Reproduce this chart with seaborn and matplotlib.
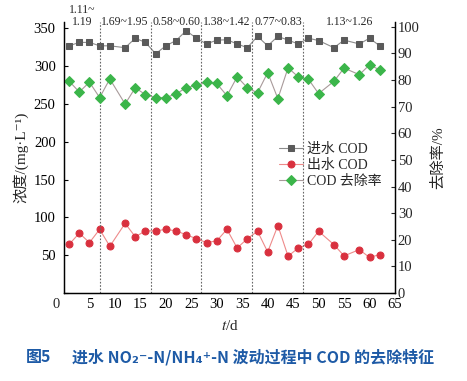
import matplotlib
matplotlib.use('Agg')
import matplotlib.pyplot as plt
import seaborn as sns

# data
days = [1, 3, 5, 7, 9, 12, 14, 16, 18, 20, 22, 24, 26, 28, 30,
        32, 34, 36, 38, 40, 42, 44, 46, 48, 50, 53, 55, 58, 60, 62]
influent_cod = [327, 331.5, 331.5, 327, 327, 324.5, 337, 331.5, 316.5, 327,
                334, 347, 337, 329.5, 334.5, 335, 329.5, 324.5, 339.5, 327,
                339.5, 334.5, 329.5, 337, 334, 324.5, 334.5, 329.5, 337, 327]
effluent_cod = [64.3, 79.1, 66.7, 84.2, 61.8, 92.1, 74.4, 82.2, 82.2, 84.2,
                82.2, 77, 71.9, 66.7, 69, 84.2, 59.5, 71.8, 81.7, 54.3,
                89.2, 48.7, 59.5, 64.4, 81.7, 64, 49.1, 57.4, 47, 50.9]
removal_rate = [79.6, 75.5, 79.2, 73.4, 80.4, 71, 77.1, 74.5, 73.4, 73.4,
                74.8, 77.1, 78, 79.1, 78.7, 74.1, 81.2, 77.1, 75.2, 82.8,
                73, 84.6, 81.2, 80.3, 74.9, 79.5, 84.5, 82, 85.7, 83.8]

phase_edges = [0, 7, 17, 27, 37, 47, 65]
phase_labels = ['1.11~\n1.19', '1.69~1.95', '0.58~0.60', '1.38~1.42', '0.77~0.83', '1.13~1.26']

left_ticks = [0, 50, 100, 150, 200, 250, 300, 350]
right_ticks = [0, 10, 20, 30, 40, 50, 60, 70, 80, 90, 100]
x_ticks = [5, 10, 15, 20, 25, 30, 35, 40, 45, 50, 55, 60, 65]

sns.set_style('white')
serif = ['Liberation Serif', 'Noto Sans CJK SC', 'DejaVu Serif']
plt.rcParams['font.family'] = serif
plt.rcParams['mathtext.fontset'] = 'stix'

fig = plt.figure(figsize=(4.67, 3.81), dpi=100)
ax = fig.add_axes([64 / 467, 1 - 293 / 381, 331 / 467, 271 / 381])
ax2 = ax.twinx()

sns.lineplot(x=days, y=influent_cod, ax=ax, color='#8c8c8c', linewidth=0.8,
             marker='s', markersize=4.3, markerfacecolor='#5a5a5a',
             markeredgecolor='#5a5a5a', label='进水 COD')
sns.lineplot(x=days, y=effluent_cod, ax=ax, color='#ee8a8a', linewidth=0.8,
             marker='o', markersize=5, markerfacecolor='#d9303e',
             markeredgecolor='#d9303e', label='出水 COD')
sns.lineplot(x=days, y=removal_rate, ax=ax2, color='#a89a9a', linewidth=0.8,
             marker='D', markersize=4.6, markerfacecolor='#3bb54a',
             markeredgecolor='#3bb54a', label='COD 去除率')

ax.set_xlim(0, 65)
ax.set_ylim(0, 358.5)
ax2.set_ylim(0, 101.8)

for b in phase_edges[1:-1]:
    ax.axvline(b, color='#666666', linestyle=(0, (1.5, 1.5)), linewidth=0.8)

# phase ratio labels above plot
for i, lab in enumerate(phase_labels):
    xc = (phase_edges[i] + phase_edges[i + 1]) / 2
    if '\n' in lab:
        top, bot = lab.split('\n')
        ax.text(xc, 374, top, ha='center', va='center', fontsize=8.5, clip_on=False)
        ax.text(xc, 358.5, bot, ha='center', va='center', fontsize=8.5, clip_on=False)
    else:
        ax.text(xc, 358.5, lab, ha='center', va='center', fontsize=8.5, clip_on=False)

ax.set_xticks(x_ticks)
ax.set_yticks(left_ticks)
ax.set_yticklabels([''] + [str(v) for v in left_ticks[1:]])
ax2.set_yticks(right_ticks)
ax.annotate('0', xy=(0, 0), xytext=(-3, -8), textcoords='offset points',
            ha='right', va='center', fontsize=10.5)

ax.tick_params(axis='both', direction='in', length=3, width=0.8, labelsize=10.5, colors='black')
ax.tick_params(axis='y', pad=6)
ax2.tick_params(axis='y', direction='in', length=3, width=0.8, labelsize=10.5, pad=2)

for a in (ax, ax2):
    a.spines['top'].set_visible(False)
    for s in ('left', 'right', 'bottom'):
        a.spines[s].set_color('black')
        a.spines[s].set_linewidth(0.9)

ax.set_xlabel('$t$/d', fontsize=11, labelpad=6)
ax.set_ylabel('浓度/(mg·L⁻¹)', fontsize=11, labelpad=4)
ax2.set_ylabel('去除率/%', fontsize=11, labelpad=8)

h1, l1 = ax.get_legend_handles_labels()
h2, l2 = ax2.get_legend_handles_labels()
ax.get_legend().remove()
ax2.get_legend().remove()
ax2.legend(h1 + h2, l1 + l2, loc='upper left', bbox_to_anchor=(0.62, 0.59),
           frameon=False, fontsize=10, handlelength=1.7, handletextpad=0.3,
           labelspacing=0.2, borderpad=0.2)

cap_font = ['Noto Sans CJK SC', 'DejaVu Sans']
fig.text(26 / 467, 1 - 357 / 381, '图5', ha='left', va='center', fontsize=11.5,
         color='#1d5aa6', fontweight='bold', family=cap_font)
fig.text(72 / 467, 1 - 357 / 381, '进水 NO₂⁻-N/NH₄⁺-N 波动过程中 COD 的去除特征', ha='left',
         va='center', fontsize=11.5, color='#1d5aa6', fontweight='bold', family=cap_font)

fig.savefig('out.png', dpi=100)
